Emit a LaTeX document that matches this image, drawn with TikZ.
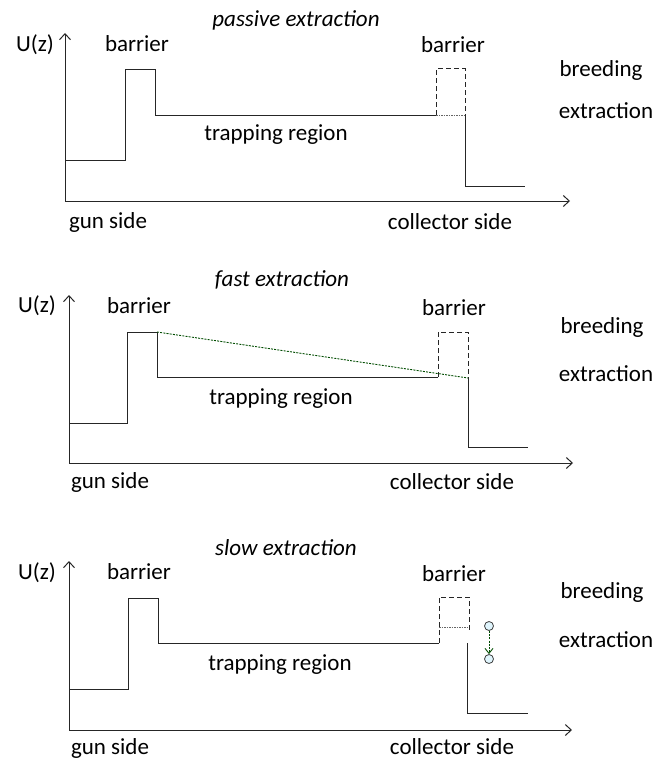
\documentclass[tikz,border=0pt]{standalone}
\usepackage{fontspec}
\setmainfont{Carlito}
\usetikzlibrary{arrows.meta}
\begin{document}
\begin{tikzpicture}[x=1pt,y=-1pt,
  lbl/.style={font=\fontsize{23}{25}\selectfont, inner sep=0pt},
  ttl/.style={font=\fontsize{23}{25}\selectfont\itshape, inner sep=0pt},
  prof/.style={line width=1pt, black!85},
  dsh/.style={line width=1pt, black!85, dash pattern=on 5pt off 3pt},
  dot/.style={line width=0.9pt, gray!80!black, dash pattern=on 1.5pt off 1pt},
  gdot/.style={line width=0.9pt, green!30!black, dash pattern=on 2pt off 1.2pt},
  ax/.style={line width=1pt, black!85, -{Straight Barb[length=6pt,width=11pt]}},
  ion/.style={circle, draw=gray!50!black, fill=cyan!12, minimum size=9pt, inner sep=0pt, line width=0.8pt}]
\useasboundingbox (0,0) rectangle (657,760);
% ---------------- panel 1 ----------------
\coordinate (o1) at (65,201); \coordinate (y1) at (65,33); \coordinate (x1) at (570,201);
\draw[ax] (o1) -- (y1);
\draw[ax] (o1) -- (x1);
\coordinate (a1) at (65,160); \coordinate (b1) at (125,160); \coordinate (c1) at (125,70);
\coordinate (d1) at (155,70); \coordinate (e1) at (155,115); \coordinate (f1) at (436,115);
\coordinate (g1) at (465,115); \coordinate (h1) at (465,186); \coordinate (i1) at (525,186);
\coordinate (p1) at (436,69); \coordinate (q1) at (465,69);
\draw[prof] (a1) -- (b1) -- (c1) -- (d1) -- (e1) -- (f1);
\draw[dsh] (f1) -- (p1) -- (q1) -- (g1);
\draw[dot] (f1) -- (g1);
\draw[prof] (g1) -- (h1) -- (i1);
\node[ttl] (t1) at (296,20) {passive extraction};
\node[lbl] (u1) at (35,45) {U(z)};
\node[lbl] (bl1) at (137,44) {barrier};
\node[lbl] (br1) at (453,45) {barrier};
\node[lbl] (bd1) at (601,70) {breeding};
\node[lbl] (ex1) at (606,111) {extraction};
\node[lbl] (tr1) at (276,135) {trapping region};
\node[lbl] (gs1) at (108,222) {gun side};
\node[lbl] (cs1) at (450,222) {collector side};
% ---------------- panel 2 ----------------
\coordinate (o2) at (69,463); \coordinate (y2) at (69,295); \coordinate (x2) at (573,463);
\draw[ax] (o2) -- (y2);
\draw[ax] (o2) -- (x2);
\coordinate (a2) at (69,423); \coordinate (b2) at (127,423); \coordinate (c2) at (127,332);
\coordinate (d2) at (157,332); \coordinate (e2) at (157,377); \coordinate (f2) at (438,377);
\coordinate (g2) at (468,378); \coordinate (h2) at (468,447); \coordinate (i2) at (528,447);
\coordinate (p2) at (438,332); \coordinate (q2) at (468,332);
\draw[prof] (a2) -- (b2) -- (c2) -- (d2) -- (e2) -- (f2);
\draw[dsh] (f2) -- (p2) -- (q2) -- (g2);
\draw[prof] (g2) -- (h2) -- (i2);
\draw[gdot] (d2) -- (g2);
\node[ttl] (t2) at (282,280) {fast extraction};
\node[lbl] (u2) at (37,306) {U(z)};
\node[lbl] (bl2) at (139,306) {barrier};
\node[lbl] (br2) at (454,308) {barrier};
\node[lbl] (bd2) at (602,327) {breeding};
\node[lbl] (ex2) at (606,374) {extraction};
\node[lbl] (tr2) at (281,399) {trapping region};
\node[lbl] (gs2) at (110,482) {gun side};
\node[lbl] (cs2) at (452,482) {collector side};
% ---------------- panel 3 ----------------
\coordinate (o3) at (69,730); \coordinate (y3) at (69,561); \coordinate (x3) at (572,730);
\draw[ax] (o3) -- (y3);
\draw[ax] (o3) -- (x3);
\coordinate (a3) at (69,689); \coordinate (b3) at (128,689); \coordinate (c3) at (128,598);
\coordinate (d3) at (158,598); \coordinate (e3) at (158,643); \coordinate (f3) at (439,643);
\coordinate (p3) at (439,597); \coordinate (q3) at (469,597); \coordinate (r3) at (469,630);
\coordinate (m3) at (439,627);
\coordinate (g3) at (467,643); \coordinate (h3) at (467,713); \coordinate (i3) at (528,713);
\draw[prof] (a3) -- (b3) -- (c3) -- (d3) -- (e3) -- (f3);
\draw[dsh] (f3) -- (p3) -- (q3) -- (r3);
\draw[dot] (m3) -- (r3 |- m3);
\draw[prof] (g3) -- (h3) -- (i3);
\node[ion] (n1) at (489,626) {};
\node[ion] (n2) at (489,659) {};
\draw[gdot, -{Straight Barb[length=5pt,width=8pt]}] (n1) -- (n2);
\node[ttl] (t3) at (286,548) {slow extraction};
\node[lbl] (u3) at (37,573) {U(z)};
\node[lbl] (bl3) at (139,572) {barrier};
\node[lbl] (br3) at (454,574) {barrier};
\node[lbl] (bd3) at (602,592) {breeding};
\node[lbl] (ex3) at (606,640) {extraction};
\node[lbl] (tr3) at (280,665) {trapping region};
\node[lbl] (gs3) at (110,748) {gun side};
\node[lbl] (cs3) at (452,747) {collector side};
\end{tikzpicture}
\end{document}
